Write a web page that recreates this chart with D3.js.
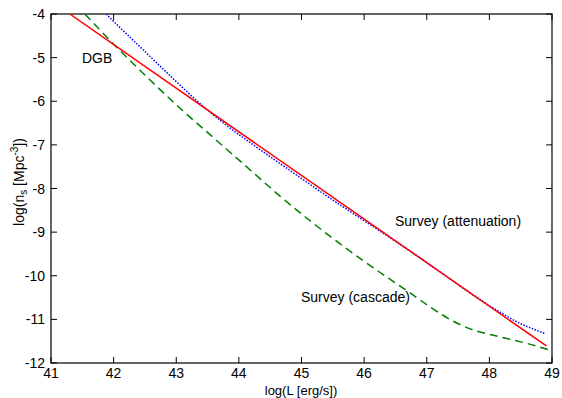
<!DOCTYPE html>
<html><head><meta charset="utf-8">
<script src="https://cdn.jsdelivr.net/npm/d3@7"></script>
<style>body{margin:0;background:#fff}text{font-family:"Liberation Sans",Arial,sans-serif}</style>
</head><body><svg id="c" width="562" height="398"></svg>
<script>
const xTicks = [41,42,43,44,45,46,47,48,49];
const yTicks = [-4,-5,-6,-7,-8,-9,-10,-11,-12];
const dgbL = [41.30, 48.91];
const dgbN = [-4.00, -11.61];
const attL = [41.88, 42.0, 42.5, 43.0, 43.4, 43.8, 44.3, 44.8, 45.3, 45.8, 46.3, 46.8, 47.3, 47.8, 48.2, 48.5, 48.7, 48.9];
const attN = [-4.00, -4.17, -4.86, -5.55, -6.08, -6.55, -7.07, -7.57, -8.07, -8.55, -9.02, -9.50, -10.00, -10.50, -10.86, -11.10, -11.22, -11.33];
const casL = [41.54, 42.02, 42.5, 43.06, 43.59, 44.13, 44.66, 45.19, 45.72, 46.2, 46.74, 47.1, 47.37, 47.64, 48.17, 48.70, 49.0];
const casN = [-4.00, -4.72, -5.40, -6.16, -6.83, -7.51, -8.18, -8.80, -9.38, -9.87, -10.40, -10.76, -11.00, -11.19, -11.40, -11.59, -11.72];

const svg = d3.select("#c");
const L = 51, R = 552, T = 14, B = 363;
const x = d3.scaleLinear().domain([41,49]).range([L,R]);
const y = d3.scaleLinear().domain([-12,-4]).range([B,T]);

svg.append("defs").append("clipPath").attr("id","clip")
  .append("rect").attr("x",L).attr("y",T).attr("width",R-L).attr("height",B-T);

const tl = 6;
const ax = svg.append("g").attr("stroke","#000").attr("stroke-width",1);
xTicks.forEach(v=>{
  ax.append("line").attr("x1",x(v)).attr("x2",x(v)).attr("y1",B).attr("y2",B-tl);
  ax.append("line").attr("x1",x(v)).attr("x2",x(v)).attr("y1",T).attr("y2",T+tl);
});
yTicks.forEach(v=>{
  ax.append("line").attr("x1",L).attr("x2",L+tl).attr("y1",y(v)).attr("y2",y(v));
  ax.append("line").attr("x1",R).attr("x2",R-tl).attr("y1",y(v)).attr("y2",y(v));
});
svg.append("rect").attr("x",L).attr("y",T).attr("width",R-L).attr("height",B-T)
  .attr("fill","none").attr("stroke","#000").attr("stroke-width",1.2);

svg.append("g").selectAll("text").data(xTicks).join("text")
  .attr("x",d=>x(d)).attr("y",378).attr("text-anchor","middle")
  .attr("font-size",14).text(d=>d);
svg.append("g").selectAll("text").data(yTicks).join("text")
  .attr("x",45).attr("y",d=>y(d)+5).attr("text-anchor","end")
  .attr("font-size",14).text(d=>d);

svg.append("text").attr("x",301).attr("y",394.5).attr("text-anchor","middle")
  .attr("font-size",13).text("log(L [erg/s])");

const yl = svg.append("text").attr("transform","translate(24,182) rotate(-90)")
  .attr("text-anchor","middle").attr("font-size",14);
yl.append("tspan").text("log(n");
yl.append("tspan").attr("font-size",10).attr("dy",3).text("s");
yl.append("tspan").attr("dy",-3).text(" [Mpc");
yl.append("tspan").attr("font-size",10).attr("dy",-6).text("-3");
yl.append("tspan").attr("dy",6).text("])");

const line = d3.line().x(d=>x(d[0])).y(d=>y(d[1]));
const g = svg.append("g").attr("clip-path","url(#clip)").attr("fill","none");
g.append("path").datum(d3.zip(casL,casN)).attr("d",line.curve(d3.curveMonotoneX))
  .attr("stroke","#008000").attr("stroke-width",1.5).attr("stroke-dasharray","8,5");
g.append("path").datum(d3.zip(attL,attN)).attr("d",line.curve(d3.curveMonotoneX))
  .attr("stroke","#0000ff").attr("stroke-width",1.5).attr("stroke-dasharray","1.5,1.5");
g.append("path").datum(d3.zip(dgbL,dgbN)).attr("d",line.curve(d3.curveLinear))
  .attr("stroke","#ff0000").attr("stroke-width",1.5);

svg.append("text").attr("x",82).attr("y",63).attr("font-size",14).text("DGB");
svg.append("text").attr("x",395).attr("y",226).attr("font-size",14).text("Survey (attenuation)");
svg.append("text").attr("x",301).attr("y",302).attr("font-size",14).text("Survey (cascade)");
</script></body></html>
